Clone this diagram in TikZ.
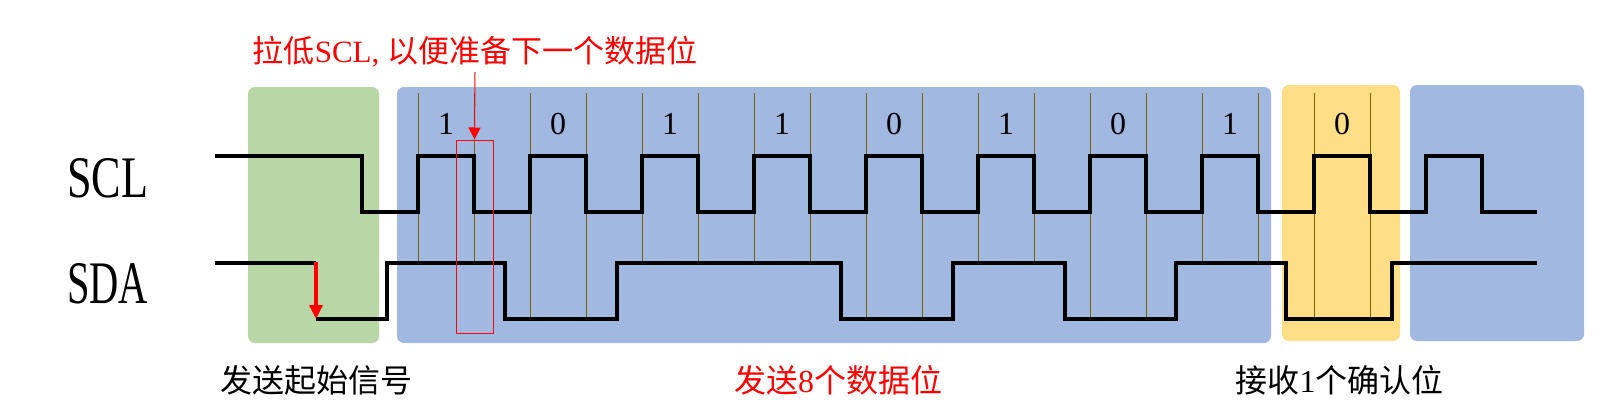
\documentclass[tikz,border=0pt]{standalone}
\usepackage{fontspec}
\setmainfont{Liberation Serif}
\newfontfamily\cjk{Noto Sans CJK SC}
\usetikzlibrary{arrows.meta}
\definecolor{gboxc}{HTML}{B8D6A6}
\definecolor{bboxc}{HTML}{A1B8E0}
\definecolor{yboxc}{HTML}{FEDF85}
\definecolor{tickc}{HTML}{7F6000}
\begin{document}
\begin{tikzpicture}[x=1pt,y=-1pt,
  sig/.style={line width=4.5pt, line join=miter, line cap=butt},
  tick/.style={tickc, line width=1pt},
  zone/.style={rounded corners=7pt},
  bitlbl/.style={anchor=base, inner sep=0pt, font=\fontsize{32}{36}\selectfont},
  caption/.style={anchor=base, inner sep=0pt, font=\fontsize{32}{36}\selectfont},
  siglbl/.style={anchor=base west, inner sep=0pt, font=\fontsize{54}{60}\selectfont}]
\fill[white] (0,0) rectangle (1607,416);
\useasboundingbox (0,0) rectangle (1607,416);
% zones
\fill[zone, gboxc] (248,87) rectangle (379,343);
\fill[zone, bboxc] (397,87) rectangle (1271,343);
\fill[zone, yboxc] (1282,85) rectangle (1400,341);
\fill[zone, bboxc] (1410,85) rectangle (1584,341);
% sampling ticks
\foreach \k/\yy in {0/263,1/319,2/263,3/263,4/319,5/263,6/319,7/263,8/319}{
  \draw[tick] ({418+112*\k},93) -- ({418+112*\k},\yy);
  \draw[tick] ({474+112*\k},93) -- ({474+112*\k},\yy);
}
% bit labels
\foreach \k/\b in {0/1,1/0,2/1,3/1,4/0,5/1,6/0,7/1,8/0}{
  \node[bitlbl] (bit\k) at ({446+112*\k},134) {\b};
}
% SCL
\draw[sig] (215,156) -- (362,156) -- (362,212)
  foreach \k in {0,...,9}{ -- ({418+112*\k},212) -- ({418+112*\k},156) -- ({474+112*\k},156) -- ({474+112*\k},212)}
  -- (1537,212);
% SDA
\draw[sig] (215,263) -- (316,263);
\draw[sig] (316,319) -- (387,319) -- (387,263) -- (505,263) -- (505,319) -- (617,319) -- (617,263)
  -- (841,263) -- (841,319) -- (953,319) -- (953,263) -- (1065,263) -- (1065,319) -- (1176,319)
  -- (1176,263) -- (1286,263) -- (1286,319) -- (1392,319) -- (1392,263) -- (1537,263);
% start arrow
\coordinate (sdahi) at (316,262);
\coordinate (sdalo) at (316,319);
\draw[red, line width=3.5pt, -{Triangle[width=13pt,length=14pt]}] (sdahi) -- (sdalo);
% focus rectangle and title
\node[draw=red, line width=1pt, minimum width=37pt, minimum height=193pt, inner sep=0pt] (focus) at (474.5,236.5) {};
\node[caption, red, font=\fontsize{31}{36}\selectfont] (title) at (475,62) {{\cjk 拉低}SCL, {\cjk 以便准备下一个数据位}};
\coordinate (titlefoot) at (475,72);
\draw[red, line width=1pt, -{Triangle[width=12pt,length=12pt]}] (titlefoot) -- (focus.north);
% signal names
\node[siglbl] (scl) at (67,197) {\resizebox{81pt}{39pt}{SCL}};
\node[siglbl] (sda) at (67,303) {\resizebox{81pt}{40pt}{SDA}};
% captions
\node[caption] (cstart) at (316.5,392) {\cjk 发送起始信号};
\node[caption, red] (cdata) at (838,392) {{\cjk 发送}8{\cjk 个数据位}};
\node[caption] (cack) at (1339.5,392) {{\cjk 接收}1{\cjk 个确认位}};
\end{tikzpicture}
\end{document}
